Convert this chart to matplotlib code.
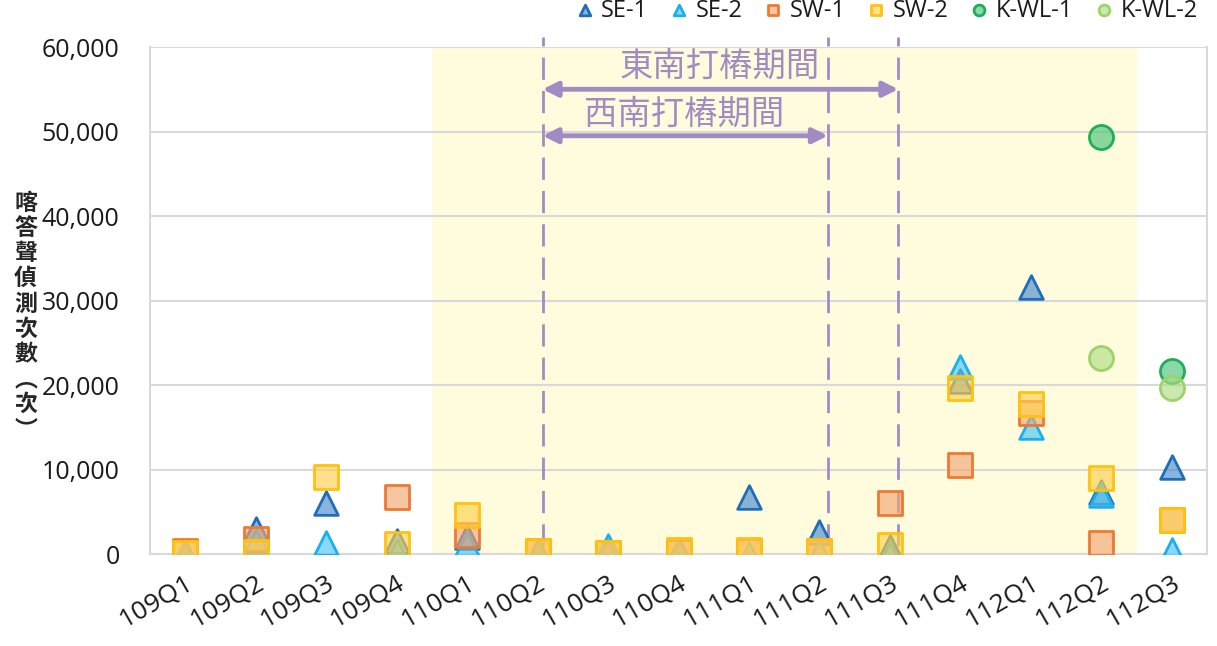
import numpy as np
import matplotlib
matplotlib.use('Agg')
import matplotlib.pyplot as plt
from matplotlib.colors import to_rgba

plt.rcParams['font.family'] = ['Open Sans', 'Noto Sans CJK TC', 'DejaVu Sans']

nan = np.nan
quarters = ['109Q1', '109Q2', '109Q3', '109Q4', '110Q1', '110Q2', '110Q3', '110Q4',
            '111Q1', '111Q2', '111Q3', '111Q4', '112Q1', '112Q2', '112Q3']

se1 = [200, 3000, 6000, 1500, 2000, 300, 200, 500, 6800, 2600, 800, 20500, 31600, 7300, 10300]
se2 = [100, 1500, 1300, 300, 1200, 100, 1000, 300, 0, 300, 0, 22100, 15000, 7000, 500]
sw1 = [400, 1800, nan, 6800, 2200, 400, 100, 200, 300, 400, 6000, 10500, 16700, 1300, 4000]
sw2 = [100, 200, 9100, 1200, 4600, 300, 100, 500, 500, 400, 1100, 19700, 17800, 9000, 4000]
kwl1 = [nan] * 13 + [49400, 21700]
kwl2 = [nan] * 13 + [23200, 19700]

series = [
    ('SE-1', se1, '^', '#1F6DB8', '#4A8CCB'),
    ('SE-2', se2, '^', '#1AB0EE', '#4CC6F5'),
    ('SW-1', sw1, 's', '#EC7A33', '#F2A673'),
    ('SW-2', sw2, 's', '#FFC20E', '#FFD04F'),
    ('K-WL-1', kwl1, 'o', '#1EAE55', '#4CC47C'),
    ('K-WL-2', kwl2, 'o', '#9CD46A', '#AEDD84'),
]

fig = plt.figure(figsize=(12.17, 6.46), dpi=100)
ax = fig.add_axes([0.1233, 0.1424, 0.8685, 0.7848])

x = np.arange(len(quarters))

# piling period shading
ax.axvspan(3.5, 13.5, color='#FEFCDD', zorder=0, lw=0)

for lab, vals, mk, ec, fc in series:
    size = 290 if mk == '^' else (280 if mk == 's' else 300)
    ax.scatter(x, vals, marker=mk, s=size, facecolors=[to_rgba(fc, 0.65)],
               edgecolors=ec, linewidths=2, label=lab, zorder=3)

ax.set_xlim(-0.5, 14.5)
ax.set_ylim(0, 60000)
ax.set_yticks(range(0, 60001, 10000))
ax.set_yticklabels([f'{v:,}' for v in range(0, 60001, 10000)])
ax.set_xticks(x)
ax.set_xticklabels(quarters, rotation=30, ha='right', rotation_mode='anchor')
ax.tick_params(axis='both', length=0, colors='#1A1A1A')
ax.tick_params(axis='y', pad=22, labelsize=18)
ax.tick_params(axis='x', pad=12, labelsize=19)
ax.grid(axis='y', color='#D9D9D9', lw=1.5, zorder=1)
ax.set_axisbelow(True)
ax.spines['top'].set_visible(False)
for s in ['left', 'right', 'bottom']:
    ax.spines[s].set_color('#D9D9D9')
    ax.spines[s].set_linewidth(1.5)

purple = '#A28BC3'
for xv in [5.07, 9.12, 10.12]:
    ax.plot([xv, xv], [1000, 61200], color=purple, lw=2, ls=(0, (8, 4)),
            clip_on=False, zorder=2)

ax.annotate('', xy=(5.07, 55000), xytext=(10.12, 55000),
            arrowprops=dict(arrowstyle='<|-|>', color=purple, lw=3.5, mutation_scale=22,
                            shrinkA=0, shrinkB=0), zorder=2)
ax.annotate('', xy=(5.07, 49500), xytext=(9.12, 49500),
            arrowprops=dict(arrowstyle='<|-|>', color=purple, lw=3.5, mutation_scale=22,
                            shrinkA=0, shrinkB=0), zorder=2)
ax.text(7.58, 57700, '東南打樁期間', color=purple, fontsize=24, ha='center', va='center',
        family=['Noto Sans CJK TC'])
ax.text(7.08, 52100, '西南打樁期間', color=purple, fontsize=24, ha='center', va='center',
        family=['Noto Sans CJK TC'])

ylab = '\n'.join(['喀', '答', '聲', '偵', '測', '次', '數', '︵', '次', '︶'])
fig.text(0.021, 0.51, ylab, fontsize=16.5, fontweight='bold', ha='center', va='center',
         linespacing=1.12, color='#262626', family=['Noto Sans CJK TC'])

leg = ax.legend(loc='center right', bbox_to_anchor=(1.0, 1.072), ncol=6, frameon=False,
                fontsize=17, markerscale=0.45, handletextpad=0.2, columnspacing=0.8,
                handlelength=1.0, borderaxespad=0)
for t in leg.get_texts():
    t.set_color('#1A1A1A')

fig.savefig('out.png', dpi=100)
